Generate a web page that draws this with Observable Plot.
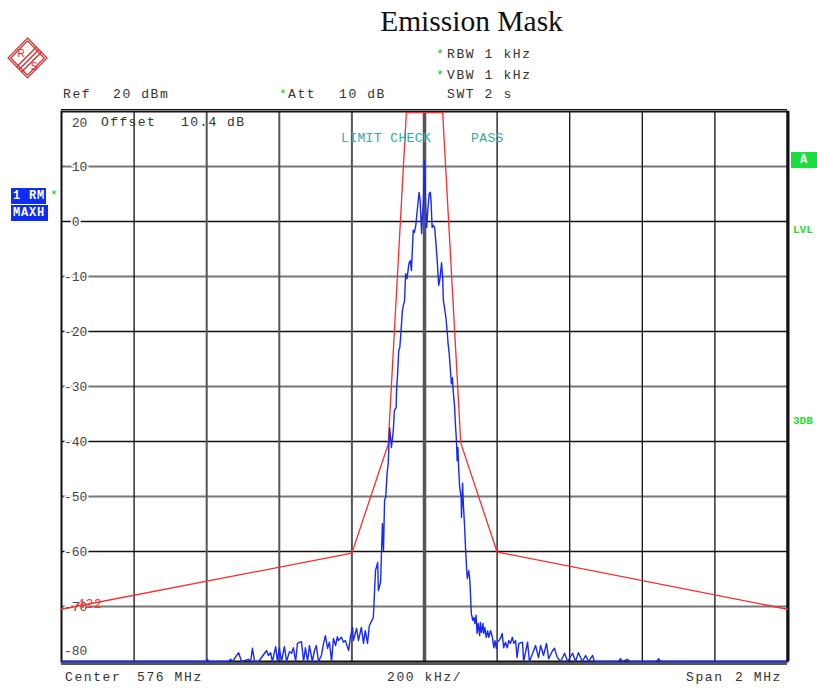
<!DOCTYPE html>
<html><head><meta charset="utf-8">
<script src="https://cdn.jsdelivr.net/npm/d3@7"></script>
<script src="https://cdn.jsdelivr.net/npm/@observablehq/plot@0.6"></script>
<style>
body{margin:0;background:#fff;}
#wrap{position:relative;width:817px;height:688px;overflow:hidden;background:#fff;}
#chart{position:absolute;left:0;top:0;}
.t{position:absolute;font-family:"Liberation Mono",monospace;font-size:13px;line-height:13px;letter-spacing:1.6px;white-space:pre;color:#333;}
.g{color:#11cc11;}
.title{position:absolute;left:471.5px;top:7px;transform:translateX(-50%);font-family:"Liberation Serif",serif;font-size:29.5px;line-height:29.5px;white-space:nowrap;color:#111;}
.box{position:absolute;font-family:"Liberation Mono",monospace;font-weight:bold;font-size:12px;line-height:16px;height:16px;color:#fff;white-space:pre;letter-spacing:0.8px;}
.gl{position:absolute;font-family:"Liberation Mono",monospace;font-weight:bold;font-size:11px;line-height:12px;color:#22dd33;}
</style>
</head><body>
<div id="wrap">
<div id="chart"></div>
</div>
<script>
// ---- data ----
const yTickValues = [20, 10, 0, -10, -20, -30, -40, -50, -60, -70, -80];
const xGridFreq = [-800, -600, -400, -200, 200, 400, 600, 800];
const centerFreq = [0];
const maskFreq  = [-1000, -200, -100, -50, 50, 100, 200, 1000];
const maskLevel = [-70.5, -60.3, -40.5, 19.8, 19.8, -40.3, -60.1, -70.5];
const traceFreq = [
  -1000,-600,-598,-595,-540,-534,-529,-512,-504,-485,
  -479,-474,-468,-457,-435,-430,-424,-419,-410,-405,
  -400,-394,-386,-380,-372,-366,-361,-355,-350,-344,
  -339,-333,-328,-322,-317,-309,-303,-298,-292,-284,
  -278,-273,-267,-262,-256,-251,-245,-240,-237,-229,
  -223,-218,-209,-204,-198,-196,-187,-182,-174,-168,
  -163,-157,-152,-146,-141,-135,-129,-127,-121,-118,
  -116,-113,-110,-107,-103,-100,-96,-91,-86,-83,
  -78,-77,-74,-71,-68,-64,-61,-57,-55,-52,
  -48,-43,-39,-36,-31,-28,-24,-20,-15,-12,
  -8,-6,-3,0,3,6,9,13,16,18,
  21,24,28,31,35,39,42,47,50,52,
  55,59,63,65,68,72,74,77,79,83,
  85,88,90,92,94,97,101,102,105,107,
  110,113,116,118,122,125,129,133,136,139,
  142,145,148,152,154,157,161,163,166,170,
  174,177,182,187,191,194,198,200,205,209,
  214,218,223,228,232,237,242,246,251,255,
  260,270,273,284,289,298,306,314,320,328,
  336,342,353,358,366,375,386,394,408,416,
  424,435,444,452,463,468,534,540,545,559,
  565,639,645,650,1000
];
const traceLevel = [
  -80,-80,-79.6,-80,-80,-79.6,-80,-78.4,-80,-79.6,
  -80,-77.6,-80,-80,-78,-78.9,-78.4,-80,-77.3,-80,
  -77.5,-80,-77.3,-80,-78.2,-78.5,-77.5,-80,-76.7,-76.5,
  -76.4,-80,-77.5,-80,-77.1,-80,-78,-77.1,-80,-78.9,
  -76.7,-75.3,-77.6,-76.5,-80,-75.8,-77.1,-75.5,-76.2,-75.6,
  -76.5,-76.2,-78,-75.5,-73.8,-76.2,-74,-76.2,-73.8,-76.7,
  -74.4,-76.7,-73.5,-72.7,-72,-63.5,-62,-67.1,-65.6,-59.3,
  -54.9,-59.8,-50.7,-50.2,-45.8,-44,-37.5,-41.1,-38,-34.4,
  -33.8,-30.7,-27.6,-23.5,-22.9,-19.3,-16.2,-14.9,-14.4,-9.5,
  -10.4,-7.6,-7.1,-8.9,-1.6,-2,-0.7,2,5.3,3.8,
  -2.2,0.7,3.8,11.1,3.3,-1.1,2,5.1,5.3,3.8,
  -1.1,-0.7,-1.1,-3.5,-7.1,-11.6,-10.7,-7.5,-10.2,-14.4,
  -15.6,-17.5,-20.4,-22.2,-24,-27.6,-29.5,-28.4,-30.7,-33.8,
  -36.7,-39.8,-43.5,-41.1,-44.7,-48.4,-50.2,-53.8,-47.6,-51.3,
  -54.9,-59.3,-63.1,-64.9,-63.5,-65.3,-71.3,-72.5,-72,-73.1,
  -71.6,-74.9,-73.1,-75.3,-72.9,-74.7,-73.1,-74.9,-73.8,-75.6,
  -74.4,-75.6,-74.4,-75.6,-77.5,-76.2,-77.6,-76.5,-76.2,-75.8,
  -74.9,-77.5,-76.5,-77.5,-76.2,-76.7,-75.6,-76.7,-76.2,-79.3,
  -76.7,-76.5,-80,-76.5,-80,-78.5,-77.1,-79.3,-77.1,-78.9,
  -76.7,-79.5,-78,-77.6,-79.3,-80,-78.5,-80,-78.5,-80,
  -78.4,-80,-78.9,-80,-78.9,-80,-80,-79.5,-80,-79.6,
  -80,-80,-79.5,-80,-80
];
// header / annotation texts
const titleText = "Emission Mask";
const limitName = "422";

// ---- build ----
const trace = traceFreq.map((f, i) => ({f, v: traceLevel[i]}));
const mask = maskFreq.map((f, i) => ({f, v: maskLevel[i]}));
const yTop = yTickValues[0], yBottom = yTickValues[yTickValues.length - 1];
const innerTicks = yTickValues.slice(1, -1);
const grayH = innerTicks.filter((d, i) => i % 2 === 0);
const blackH = innerTicks.filter((d, i) => i % 2 === 1);
const grayV = xGridFreq.filter(d => d >= -600 && d < 0);
const blackV = xGridFreq.filter(d => !(d >= -600 && d < 0));
const fmt = d => (d < 0 ? String(d) : "\u00a0" + d);
const lab = {frameAnchor: "left", dx: 2.5, textAnchor: "start", fontFamily: "Liberation Mono", fontSize: 13,
  fill: "#444", stroke: "white", strokeWidth: 3.5, text: fmt};

const chart = Plot.plot({
  width: 817, height: 688,
  marginLeft: 61, marginRight: 30, marginTop: 111, marginBottom: 27,
  x: {domain: [-1000, 1000], axis: null},
  y: {domain: [yBottom, yTop], axis: null},
  style: {background: "white", overflow: "visible"},
  marks: [
    Plot.ruleY(grayH, {stroke: "#777", strokeWidth: 2}),
    Plot.ruleY(blackH, {stroke: "#111", strokeWidth: 1.3}),
    Plot.ruleX(grayV, {stroke: "#555", strokeWidth: 2}),
    Plot.ruleX(blackV, {stroke: "#111", strokeWidth: 1.3}),
    Plot.ruleX(centerFreq, {stroke: "#555", strokeWidth: 3.5}),
    Plot.text(innerTicks, {...lab, y: d => d}),
    Plot.text([yTop], {...lab, y: d => d, dy: 11.5}),
    Plot.text([yBottom], {...lab, y: d => d, dy: -11}),
    Plot.frame({stroke: "#111", strokeWidth: 2}),
    Plot.ruleY([yTop], {stroke: "#111", strokeWidth: 1, dy: -2}),
    Plot.ruleY([yBottom], {stroke: "#555", strokeWidth: 3, dy: 2}),
    Plot.ruleX([1000], {stroke: "#111", strokeWidth: 3, dx: 0.5}),
    Plot.line(mask, {x: "f", y: "v", stroke: "#ff2a2a", strokeWidth: 1.3}),
    Plot.line(trace, {x: "f", y: "v", stroke: "#1628ff", strokeWidth: 1.4})
  ]
});
document.getElementById("chart").appendChild(chart);

// ---- overlay text ----
const wrap = document.getElementById("wrap");
function add(cls, text, left, topPx, extra) {
  const el = document.createElement("div");
  el.className = cls;
  el.textContent = text;
  el.style.left = left + "px";
  el.style.top = topPx + "px";
  if (extra) Object.assign(el.style, extra);
  wrap.appendChild(el);
  return el;
}
const titleEl = document.createElement("div");
titleEl.className = "title"; titleEl.textContent = titleText; wrap.appendChild(titleEl);

add("t g", "*", 436, 48);
add("t", "RBW 1 kHz", 447, 48);
add("t g", "*", 436, 69);
add("t", "VBW 1 kHz", 447, 69);
add("t", "Ref", 63, 88);
add("t", "20 dBm", 113, 88);
add("t g", "*", 279, 88);
add("t", "Att", 288, 88);
add("t", "10 dB", 339, 88);
add("t", "SWT 2 s", 447, 88);

add("t", "Center", 65, 671);
add("t", "576 MHz", 137, 671);
add("t", "200 kHz/", 387, 671);
add("t", "Span", 686, 671);
add("t", "2 MHz", 735, 671);

add("t", "Offset", 101, 116, {letterSpacing: "1.4px"});
add("t", "10.4 dB", 181, 116, {letterSpacing: "1.4px"});
add("t", "LIMIT CHECK", 341, 132, {color: "#33aaaa", letterSpacing: "0.4px"});
add("t", "PASS", 471, 132, {color: "#33aaaa", letterSpacing: "0.4px"});
add("t", limitName, 77, 598, {color: "#ff3030", letterSpacing: "0.6px"});

add("box", "1 RM", 11, 188, {width: "35px", background: "#0d2ef0", paddingLeft: "2px", boxSizing: "border-box"});
add("box", "MAXH", 11, 205, {width: "37px", background: "#0d2ef0", paddingLeft: "2px", boxSizing: "border-box"});
add("t g", "*", 50, 189);
add("box", "A", 791, 152, {width: "26px", background: "#1adf3c", textAlign: "center"});
add("gl", "LVL", 793, 224);
add("gl", "3DB", 793, 415);

// R&S logo
const ns = "http://www.w3.org/2000/svg";
const logo = document.createElementNS(ns, "svg");
logo.setAttribute("width", 56); logo.setAttribute("height", 56);
logo.style.position = "absolute"; logo.style.left = "0px"; logo.style.top = "30px";
logo.innerHTML = `
<g fill="none" stroke="#e02828" stroke-width="1.2">
<polygon points="27.5,8 47,28 27.5,48 8,28"/>
<polygon points="27.5,10.8 44.2,28 27.5,45.2 10.8,28"/>
<line x1="39" y1="19.5" x2="19" y2="39.5"/>
<line x1="36.5" y1="17" x2="16.5" y2="37"/>
<line x1="41.5" y1="22" x2="21.5" y2="42"/>
</g>
<text x="21" y="27" font-family="Liberation Sans" font-size="10" fill="#e02828" text-anchor="middle">R</text>
<text x="34" y="40" font-family="Liberation Sans" font-size="10" fill="#e02828" text-anchor="middle">S</text>`;
wrap.appendChild(logo);
</script>
</body></html>
